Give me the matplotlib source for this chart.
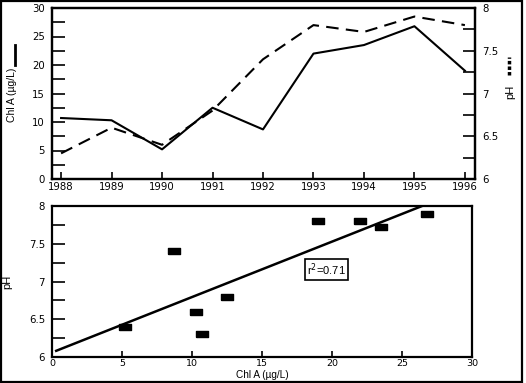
import numpy as np
import matplotlib.pyplot as plt
from matplotlib.lines import Line2D
from matplotlib.patches import Rectangle
from matplotlib.ticker import MultipleLocator, FormatStrFormatter

plt.rcParams['font.family'] = ['Liberation Sans', 'DejaVu Sans']

# data
years = [1988, 1989, 1990, 1991, 1992, 1993, 1994, 1995, 1996]
chl = [10.7, 10.3, 5.2, 12.5, 8.7, 22.0, 23.5, 26.8, 19.0]
ph = [6.3, 6.6, 6.4, 6.8, 7.4, 7.8, 7.72, 7.9, 7.8]

fig = plt.figure(figsize=(5.26, 3.83), dpi=100)
W, H = 526.0, 383.0

def px_axes(l, t, r, b):
    return fig.add_axes([l / W, 1 - b / H, (r - l) / W, (b - t) / H])

def tick_font(ax, size=7.3):
    for lab in ax.get_xticklabels() + ax.get_yticklabels():
        lab.set_family('DejaVu Sans')
        lab.set_fontsize(size)

lw_sp = 1.6
fmt = FormatStrFormatter('%g')

# ---- top: time series ----
ax1 = px_axes(52, 8, 475, 179)
ax1.plot(years, chl, color='black', lw=1.5)
ax1.set_xlim(1987.82, 1996.2)
ax1.set_ylim(0, 30)
ax1.yaxis.set_major_locator(MultipleLocator(5))
ax1.yaxis.set_minor_locator(MultipleLocator(2.5))
ax1.set_xticks(years)
ax1.tick_params(axis='both', which='both', direction='in', width=1.2)
ax1.tick_params(axis='y', which='both', length=9, pad=5)
ax1.tick_params(axis='x', which='both', length=5, pad=2)

ax1b = ax1.twinx()
ax1b.plot(years, ph, color='black', lw=1.5, dashes=(6, 3.5))
ax1b.set_ylim(6, 8)
ax1b.yaxis.set_major_locator(MultipleLocator(0.5))
ax1b.yaxis.set_minor_locator(MultipleLocator(0.25))
ax1b.yaxis.set_major_formatter(fmt)
ax1b.tick_params(axis='y', which='both', direction='in', length=9, width=1.2, pad=5)
for a in (ax1, ax1b):
    for s in a.spines.values():
        s.set_linewidth(lw_sp)
tick_font(ax1)
tick_font(ax1b)

# y-labels with line-style keys
fig.text(12 / W, 1 - 95 / H, 'Chl A (µg/L)', rotation=90, ha='center', va='center', fontsize=7.5)
fig.add_artist(Line2D([15 / W, 15 / W], [1 - 65 / H, 1 - 45 / H], color='black', lw=2))
fig.text(510 / W, 1 - 92 / H, 'pH', rotation=90, ha='center', va='center', fontsize=8)
fig.add_artist(Line2D([509 / W, 509 / W], [1 - 75 / H, 1 - 57 / H], color='black', lw=2.5,
                      dashes=(1, 0.6)))

# ---- bottom: scatter with regression ----
ax2 = px_axes(52, 206, 472, 357)
rect = [(-1, -0.55), (1, -0.55), (1, 0.55), (-1, 0.55), (-1, -0.55)]
ax2.plot(chl, ph, linestyle='none', marker=rect, markersize=8.5, color='black')

slope, intercept = np.polyfit(chl, ph, 1)
r2 = np.corrcoef(chl, ph)[0, 1] ** 2
xfit = np.array([0.3, 30])
ax2.plot(xfit, slope * xfit + intercept, color='black', lw=1.8)
ax2.text(19.6, 7.16, 'r$^2$=%.2f' % max(r2, 0.71), ha='center', va='center', fontsize=8,
         bbox=dict(boxstyle='square,pad=0.2', fc='white', ec='black', lw=1.2))

ax2.set_xlim(0, 30)
ax2.set_ylim(6, 8)
ax2.xaxis.set_major_locator(MultipleLocator(5))
ax2.yaxis.set_major_locator(MultipleLocator(0.5))
ax2.yaxis.set_minor_locator(MultipleLocator(0.25))
ax2.yaxis.set_major_formatter(fmt)
ax2.tick_params(axis='both', which='both', direction='in', width=1.2)
ax2.tick_params(axis='y', which='both', length=9, pad=5)
ax2.tick_params(axis='x', which='both', length=4, pad=1.5)
ax2.set_ylabel('pH', fontsize=8, labelpad=12)
for s in ax2.spines.values():
    s.set_linewidth(lw_sp)
tick_font(ax2)
for lab in ax2.get_xticklabels():
    lab.set_fontsize(6.8)
fig.text(262 / W, 1 - 375 / H, 'Chl A (µg/L)', ha='center', va='center', fontsize=7.2)

# black frame round the picture
fig.add_artist(Rectangle((0.002, 0.003), 0.99, 0.994, transform=fig.transFigure,
                         fill=False, ec='black', lw=1.6))

fig.savefig('out.png', dpi=100)
